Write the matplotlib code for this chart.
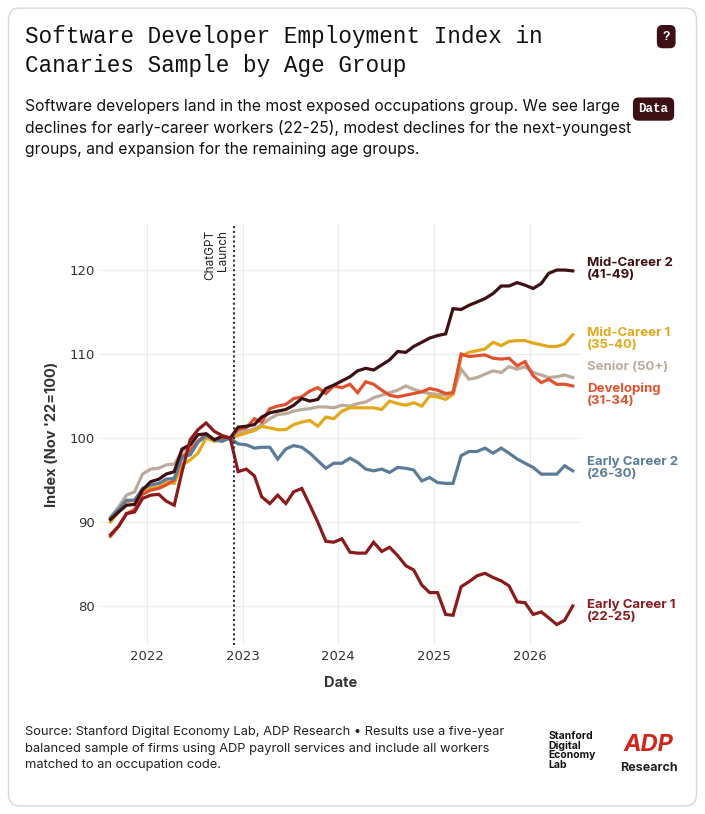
import pandas as pd
import matplotlib.pyplot as plt
from matplotlib.patches import FancyBboxPatch

# Monthly index values, Aug 2021 .. Jun 2026 (Nov 2022 = 100)
early1 = [88.5, 89.5, 91.0, 91.2, 92.8, 93.2, 93.3, 92.5, 92.0, 96.0, 99.8, 101.0, 101.8, 100.8, 100.3, 100.0,
          96.0, 96.3, 95.5, 93.0, 92.2, 93.2, 92.2, 93.6, 94.0, 92.0, 90.0, 87.7, 87.6,
          88.0, 86.4, 86.3, 86.3, 87.6, 86.5, 87.0, 86.0, 84.8, 84.3, 82.5, 81.6,
          81.6, 79.0, 78.9, 82.3, 82.9, 83.6, 83.9, 83.4, 83.0, 82.4, 80.5, 80.4,
          79.0, 79.3, 78.6, 77.8, 78.3, 80.0]
early2 = [90.5, 91.5, 92.6, 92.6, 94.0, 94.4, 94.6, 95.1, 95.2, 97.7, 98.0, 99.5, 100.3, 99.8, 99.6, 100.0,
          99.3, 99.2, 98.8, 98.9, 98.9, 97.5, 98.7, 99.1, 98.9, 98.2, 97.3, 96.4, 97.0,
          97.0, 97.6, 97.1, 96.3, 96.1, 96.3, 95.9, 96.5, 96.4, 96.2, 94.9, 95.3,
          94.7, 94.6, 94.6, 97.9, 98.4, 98.4, 98.8, 98.2, 98.8, 98.2, 97.5, 97.0,
          96.5, 95.7, 95.7, 95.7, 96.7, 96.1]
developing = [88.3, 89.5, 91.0, 91.5, 93.3, 93.8, 94.0, 94.4, 95.0, 97.8, 98.5, 99.6, 100.5, 99.8, 99.9, 100.0,
              101.0, 101.2, 102.3, 101.9, 103.5, 103.8, 104.0, 104.7, 104.9, 105.6, 106.0, 105.3, 106.2,
              106.0, 106.4, 105.4, 106.7, 106.4, 105.7, 105.1, 104.9, 105.1, 105.3, 105.5, 105.9,
              105.7, 105.3, 105.4, 110.0, 109.7, 109.8, 109.9, 109.5, 109.4, 109.5, 108.6, 109.1,
              107.4, 106.6, 107.0, 106.4, 106.4, 106.2]
mid1 = [90.0, 91.2, 92.4, 92.6, 93.8, 94.0, 94.2, 94.8, 94.6, 96.8, 97.4, 98.2, 100.0, 99.6, 99.8, 100.0,
        100.3, 100.6, 100.9, 101.4, 101.2, 101.0, 101.0, 101.6, 101.9, 102.1, 101.4, 102.5, 102.3,
        103.2, 103.6, 103.6, 103.6, 103.6, 103.4, 104.4, 104.1, 103.9, 104.2, 103.8, 105.0,
        104.9, 104.6, 105.2, 109.7, 110.2, 110.4, 110.6, 111.4, 111.0, 111.5, 111.6, 111.6,
        111.3, 111.1, 110.9, 110.9, 111.2, 112.3]
mid2 = [90.3, 91.2, 92.0, 92.1, 93.8, 94.8, 95.1, 95.7, 96.0, 98.7, 99.2, 100.4, 100.5, 99.8, 100.2, 100.0,
        101.3, 101.4, 101.6, 102.5, 103.0, 103.2, 103.4, 103.9, 104.7, 104.4, 104.6, 105.9, 106.3,
        106.8, 107.3, 108.0, 108.3, 108.1, 108.7, 109.3, 110.3, 110.2, 110.9, 111.4, 111.9,
        112.2, 112.4, 115.4, 115.3, 115.8, 116.2, 116.6, 117.2, 118.1, 118.1, 118.5, 118.2,
        117.8, 118.4, 119.6, 120.0, 120.0, 119.9]
senior = [90.6, 91.8, 93.2, 93.6, 95.7, 96.3, 96.4, 96.8, 96.9, 98.4, 99.0, 99.7, 100.2, 99.7, 100.0, 100.0,
          100.6, 100.8, 101.1, 101.6, 102.3, 102.8, 102.9, 103.2, 103.4, 103.5, 103.7, 103.7, 103.6,
          103.9, 103.8, 104.1, 104.3, 104.8, 105.1, 105.4, 105.7, 106.2, 105.8, 105.5, 105.3,
          105.2, 105.1, 105.3, 108.2, 107.0, 107.2, 107.6, 108.0, 107.8, 108.5, 108.2, 108.5,
          107.8, 107.5, 107.2, 107.3, 107.5, 107.2]

dates = pd.date_range("2021-08-01", periods=len(early1), freq="MS") + pd.Timedelta(days=14)
x = (dates.year + (dates.dayofyear - 1) / 365.25).to_numpy()

series = [
    (senior, "#bcaa9c", "Senior (50+)", None),
    (mid1, "#e3a81c", "Mid-Career 1", "(35-40)"),
    (developing, "#e0522e", "Developing", "(31-34)"),
    (early2, "#5b7c99", "Early Career 2", "(26-30)"),
    (mid2, "#3d1014", "Mid-Career 2", "(41-49)"),
    (early1, "#8b1a1a", "Early Career 1", "(22-25)"),
]
label_y = {"Senior (50+)": 108.4, "Mid-Career 1": 111.8, "Developing": 105.2,
           "Early Career 2": 96.4, "Mid-Career 2": 120.1, "Early Career 1": 79.4}

fig = plt.figure(figsize=(7.05, 8.14), dpi=100)
card = FancyBboxPatch((0.012, 0.01), 0.976, 0.98, boxstyle="round,pad=0,rounding_size=0.015",
                      transform=fig.transFigure, facecolor="white", edgecolor="#d8d8d8", lw=1, zorder=-5)
fig.patches.append(card)

fig.text(0.035, 0.969, "Software Developer Employment Index in\nCanaries Sample by Age Group",
         family="Liberation Mono", fontsize=16.3, va="top", linespacing=1.3, color="#111")
fig.text(0.035, 0.878, "Software developers land in the most exposed occupations group. We see large\n"
         "declines for early-career workers (22-25), modest declines for the next-youngest\n"
         "groups, and expansion for the remaining age groups.",
         family="Inter", fontsize=11.3, va="top", linespacing=1.45, color="#111")
fig.text(0.945, 0.955, "?", family="Liberation Mono", fontsize=9, weight="bold", color="white",
         ha="center", va="center", bbox=dict(boxstyle="round,pad=0.45", fc="#3d1014", ec="none"))
fig.text(0.927, 0.866, "Data", family="Liberation Mono", fontsize=9, weight="bold", color="white",
         ha="center", va="center", bbox=dict(boxstyle="round,pad=0.45", fc="#3d1014", ec="none"))

ax = fig.add_axes([0.142, 0.208, 0.681, 0.516])
for vals, col, name, sub in series:
    ax.plot(x, vals, color=col, lw=2.3, solid_joinstyle="miter")
    txt = name if sub is None else name + "\n" + sub
    ax.text(2026.6, label_y[name], txt, color=col, fontsize=9.5, weight="bold", family="Inter",
            va="center", linespacing=1.0, clip_on=False)

ax.axvline(2022.91, color="#333", ls=(0, (1, 1.3)), lw=1.5)
ax.text(2022.86, 124.8, "ChatGPT\nLaunch", rotation=90, ha="right", va="top", fontsize=8.5,
        family="Inter", color="#222", linespacing=1.1)

ax.set_xlim(2021.51, 2026.53)
ax.set_ylim(75.4, 125.4)
ax.set_xticks([2022, 2023, 2024, 2025, 2026])
ax.set_xticklabels(["2022", "2023", "2024", "2025", "2026"])
ax.set_yticks([80, 90, 100, 110, 120])
ax.grid(color="#ebebeb", lw=0.8)
ax.tick_params(length=0, labelsize=9.5, colors="#333")
for s in ax.spines.values():
    s.set_visible(False)
ax.set_xlabel("Date", fontsize=10.5, weight="bold", family="Inter", color="#333", labelpad=10)
ax.set_ylabel("Index (Nov '22=100)", fontsize=10.5, weight="bold", family="Inter", color="#333", labelpad=8)

fig.text(0.035, 0.108, "Source: Stanford Digital Economy Lab, ADP Research \u2022 Results use a five-year\n"
         "balanced sample of firms using ADP payroll services and include all workers\n"
         "matched to an occupation code.", family="Inter", fontsize=9.3, va="top",
         linespacing=1.5, color="#222")
fig.text(0.778, 0.102, "Stanford\nDigital\nEconomy\nLab", family="Inter", fontsize=7.5, va="top",
         linespacing=0.95, color="#111", weight="bold")
fig.text(0.92, 0.085, "ADP", family="Inter", fontsize=17, weight="bold", style="italic",
         color="#d0271d", ha="center", va="center")
fig.text(0.92, 0.057, "Research", family="Inter", fontsize=9, weight="bold", color="#222",
         ha="center", va="center")

fig.savefig("out.png", dpi=100)
